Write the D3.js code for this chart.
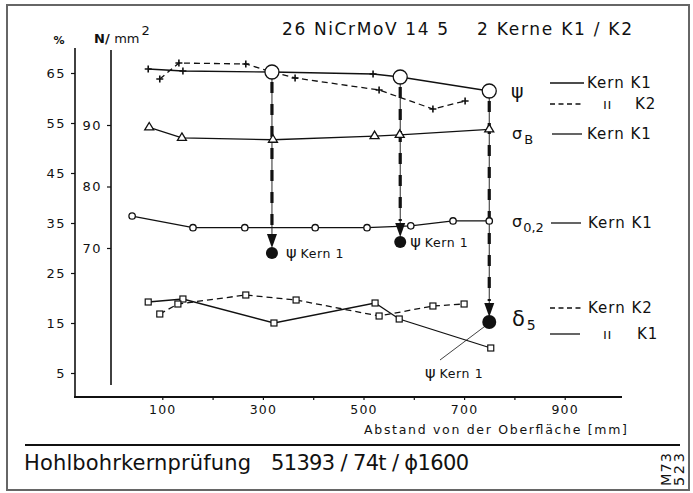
<!DOCTYPE html>
<html>
<head>
<meta charset="utf-8">
<script src="https://cdn.jsdelivr.net/npm/d3@7"></script>
<style>
  body { margin: 0; background: #fff; }
  svg text { font-family: "DejaVu Sans", sans-serif; fill: #111; }
</style>
</head>
<body>
<script>
const width = 693;
const height = 493;

// Abstand von der Oberfläche [mm] / values
const psiK1Pos = [72, 141, 318, 519, 573, 750];
const psiK1Val = [65.8, 65.4, 65.2, 64.8, 64.2, 61.4];
const psiK2Pos = [95, 133, 266, 318, 364, 531, 638, 702];
const psiK2Val = [63.8, 67.0, 66.8, 65.2, 64.0, 61.6, 57.8, 59.4];

const sigmaBPos = [74, 139, 320, 522, 572, 750];
const sigmaBVal = [89.6, 87.9, 87.6, 88.2, 88.4, 89.3];
const sigma02Pos = [40, 161, 264, 404, 507, 594, 678, 750];
const sigma02Val = [75.2, 73.3, 73.3, 73.3, 73.3, 73.6, 74.4, 74.4];

const delta5K1Pos = [72, 141, 322, 523, 571, 753];
const delta5K1Val = [19.2, 19.8, 15.0, 19.0, 15.8, 10.0];
const delta5K2Pos = [95, 131, 266, 366, 531, 638, 700];
const delta5K2Val = [16.8, 18.8, 20.6, 19.6, 16.4, 18.4, 18.8];

// psi of Kern 1 at the three marked spots (arrows)
const kern1Pos = [318, 573, 750];
const kern1Val = [29.0, 31.2, 15.2];

const pctTicks = [5, 15, 25, 35, 45, 55, 65];
const nTicks = [70, 80, 90];
const xTicks = [100, 200, 300, 400, 500, 600, 700, 800, 900];
const xLabels = [100, 300, 500, 700, 900];

const svg = d3.create('svg')
  .attr('width', width)
  .attr('height', height)
  .style('background-color', '#fff');
document.body.appendChild(svg.node());

const ink = '#111';

const x = d3.scaleLinear().domain([0, 1000]).range([112, 615]);
const yPct = d3.scaleLinear().domain([0, 70]).range([398, 48]);
const yN = d3.scaleLinear().domain([70, 90]).range([248, 125]);

// frame
svg.append('rect')
  .attr('x', 7).attr('y', 5).attr('width', 682).attr('height', 485)
  .attr('fill', 'none').attr('stroke', '#666').attr('stroke-width', 2);

// x axis
const xAxis = svg.append('g')
  .attr('transform', 'translate(0,397)')
  .call(d3.axisBottom(x).tickValues(xTicks).tickSize(3)
    .tickFormat(d => xLabels.includes(d) ? d : ''));
xAxis.select('.domain').remove();
xAxis.selectAll('line').attr('stroke', ink).attr('stroke-width', 1.2);
xAxis.selectAll('text').attr('font-size', 12.5).attr('dy', '0.9em')
  .attr('letter-spacing', 1.2).attr('fill', ink);
svg.append('line')
  .attr('x1', 74).attr('x2', 622).attr('y1', 397).attr('y2', 397)
  .attr('stroke', ink).attr('stroke-width', 1.8);

// % axis
const pAxis = svg.append('g')
  .attr('transform', 'translate(75,0)')
  .call(d3.axisLeft(yPct).tickValues(pctTicks).tickSize(4).tickPadding(5));
pAxis.select('.domain').remove();
pAxis.selectAll('line').attr('stroke', ink).attr('stroke-width', 1.2);
pAxis.selectAll('text').attr('font-size', 13).attr('letter-spacing', 1.5).attr('fill', ink);
svg.append('line')
  .attr('x1', 75).attr('x2', 75).attr('y1', yPct(70)).attr('y2', 397)
  .attr('stroke', ink).attr('stroke-width', 1.6);

// N/mm2 axis
const nAxis = svg.append('g')
  .attr('transform', 'translate(111,0)')
  .call(d3.axisLeft(yN).tickValues(nTicks).tickSize(4).tickPadding(5));
nAxis.select('.domain').remove();
nAxis.selectAll('line').attr('stroke', ink).attr('stroke-width', 1.2);
nAxis.selectAll('text').attr('font-size', 13).attr('letter-spacing', 1.5).attr('fill', ink);
svg.append('line')
  .attr('x1', 111).attr('x2', 111).attr('y1', 50).attr('y2', 385)
  .attr('stroke', ink).attr('stroke-width', 1.6);

// axis units
svg.append('text').attr('x', 59).attr('y', 44).attr('text-anchor', 'middle')
  .attr('font-size', 11).attr('font-weight', 'bold').text('%');
const unit = svg.append('text').attr('x', 94).attr('y', 43).attr('font-size', 13);
unit.append('tspan').attr('font-weight', 'bold').text('N/ ');
unit.append('tspan').text('mm');
unit.append('tspan').attr('dy', -8).attr('dx', 2).text('2');

// title
svg.append('text').attr('x', 282).attr('y', 35).attr('font-size', 17)
  .attr('textLength', 166).attr('lengthAdjust', 'spacing').text('26 NiCrMoV 14 5');
svg.append('text').attr('x', 477).attr('y', 35).attr('font-size', 17)
  .attr('textLength', 155).attr('lengthAdjust', 'spacing').text('2 Kerne K1 / K2');

// helpers
function pts(pos, val, ys) { return pos.map((p, i) => [x(p), ys(val[i])]); }
const line = d3.line();
function drawLine(data, dashed) {
  svg.append('path').datum(data)
    .attr('d', line)
    .attr('fill', 'none').attr('stroke', ink).attr('stroke-width', 1.3)
    .attr('stroke-dasharray', dashed ? '6,4' : null);
}
function plus(data) {
  svg.selectAll(null).data(data).enter().append('path')
    .attr('d', d => `M${d[0] - 3.5},${d[1]}h7M${d[0]},${d[1] - 3.5}v7`)
    .attr('stroke', ink).attr('stroke-width', 1.6);
}
function openCircle(data, r) {
  svg.selectAll(null).data(data).enter().append('circle')
    .attr('cx', d => d[0]).attr('cy', d => d[1]).attr('r', r)
    .attr('fill', '#fff').attr('stroke', ink).attr('stroke-width', 1.3);
}
function square(data) {
  svg.selectAll(null).data(data).enter().append('rect')
    .attr('x', d => d[0] - 3).attr('y', d => d[1] - 3).attr('width', 6).attr('height', 6)
    .attr('fill', '#fff').attr('stroke', ink).attr('stroke-width', 1.2);
}
function triangle(data) {
  svg.selectAll(null).data(data).enter().append('path')
    .attr('d', d => `M${d[0]},${d[1] - 5}L${d[0] + 4.5},${d[1] + 2.5}L${d[0] - 4.5},${d[1] + 2.5}Z`)
    .attr('fill', '#fff').attr('stroke', ink).attr('stroke-width', 1.3);
}

// vertical arrows psi Kern 1
kern1Pos.forEach((p, i) => {
  const top = yPct(psiK1Val[psiK1Pos.indexOf(p)]);
  const cy = yPct(kern1Val[i]);
  const cx = x(p);
  const tip = cy - 5;
  svg.append('line').attr('x1', cx).attr('x2', cx).attr('y1', top + 6).attr('y2', tip - 10)
    .attr('stroke', ink).attr('stroke-width', 0.9);
  svg.append('line').attr('x1', cx).attr('x2', cx).attr('y1', top + 10).attr('y2', tip - 16)
    .attr('stroke', ink).attr('stroke-width', 3.2).attr('stroke-dasharray', '11,11');
  svg.append('path')
    .attr('d', `M${cx},${tip}L${cx - 5},${tip - 14}L${cx + 5},${tip - 14}Z`)
    .attr('fill', ink);
  svg.append('circle').attr('cx', cx).attr('cy', cy).attr('r', i === 2 ? 7 : 6).attr('fill', ink);
});

// psi
const psi1 = pts(psiK1Pos, psiK1Val, yPct);
const psi2 = pts(psiK2Pos, psiK2Val, yPct);
drawLine(psi1, false);
drawLine(psi2, true);
plus(psi1.filter((d, i) => !kern1Pos.includes(psiK1Pos[i])));
plus(psi2.filter((d, i) => !kern1Pos.includes(psiK2Pos[i])));
openCircle(psi1.filter((d, i) => kern1Pos.includes(psiK1Pos[i])), 7);

// sigma B
const sB = pts(sigmaBPos, sigmaBVal, yN);
drawLine(sB, false);
triangle(sB);

// sigma 0,2
const s02 = pts(sigma02Pos, sigma02Val, yN);
drawLine(s02, false);
openCircle(s02, 3.2);

// delta 5
const d1 = pts(delta5K1Pos, delta5K1Val, yPct);
const d2 = pts(delta5K2Pos, delta5K2Val, yPct);
drawLine(d1, false);
drawLine(d2, true);
square(d1);
square(d2);

// psi Kern 1 labels
function kernLabel(px, py) {
  const t = svg.append('text').attr('x', px).attr('y', py).attr('font-size', 12.5);
  t.append('tspan').attr('font-size', 16).text('ψ');
  t.append('tspan').attr('dx', 4).attr('letter-spacing', 0.6).text('Kern 1');
}
kernLabel(x(kern1Pos[0]) + 14, yPct(kern1Val[0]) + 5);
kernLabel(x(kern1Pos[1]) + 10, yPct(kern1Val[1]) + 5);
kernLabel(425, 378);
svg.append('line')
  .attr('x1', 440).attr('y1', 360).attr('x2', x(kern1Pos[2]) - 4).attr('y2', yPct(kern1Val[2]) + 4)
  .attr('stroke', ink).attr('stroke-width', 0.8);

// legend
function legLine(x1, x2, y, dashed) {
  svg.append('line').attr('x1', x1).attr('x2', x2).attr('y1', y).attr('y2', y)
    .attr('stroke', ink).attr('stroke-width', 1.3)
    .attr('stroke-dasharray', dashed ? '5,3.5' : null);
}
function legText(px, py, s) {
  svg.append('text').attr('x', px).attr('y', py).attr('font-size', 15)
    .attr('letter-spacing', 1).text(s);
}
function ditto(px, py) {
  svg.append('text').attr('x', px).attr('y', py).attr('font-size', 14)
    .attr('letter-spacing', 0.5).text('ıı');
}

svg.append('text').attr('x', 511).attr('y', 98).attr('font-size', 19).text('ψ');
legLine(550, 584, 83, false); legText(587, 88, 'Kern K1');
legLine(550, 584, 104, true); ditto(603, 109); legText(635, 109, 'K2');

const sbT = svg.append('text').attr('x', 512).attr('y', 139).attr('font-size', 16);
sbT.append('tspan').text('σ');
sbT.append('tspan').attr('font-size', 13).attr('dy', 5).attr('dx', 2).text('B');
legLine(552, 582, 134, false); legText(587, 139, 'Kern K1');

const s02T = svg.append('text').attr('x', 512).attr('y', 227).attr('font-size', 16);
s02T.append('tspan').text('σ');
s02T.append('tspan').attr('font-size', 13).attr('dy', 5).attr('dx', 1).text('0,2');
legLine(551, 581, 223, false); legText(588, 228, 'Kern K1');

const dT = svg.append('text').attr('x', 512).attr('y', 326).attr('font-size', 21);
dT.append('tspan').text('δ');
dT.append('tspan').attr('font-size', 14).attr('dy', 4).attr('dx', 2).text('5');
legLine(550, 581, 308, true); legText(588, 313, 'Kern K2');
legLine(550, 580, 334, false); ditto(603, 339); legText(637, 339, 'K1');

// x axis title
svg.append('text').attr('x', 364).attr('y', 434).attr('font-size', 12.5)
  .attr('textLength', 263).attr('lengthAdjust', 'spacing')
  .text('Abstand von der Oberfläche [mm]');

// footer
svg.append('line').attr('x1', 25).attr('x2', 680).attr('y1', 445).attr('y2', 445)
  .attr('stroke', ink).attr('stroke-width', 2);
svg.append('text').attr('x', 24).attr('y', 470).attr('font-size', 21)
  .attr('textLength', 227).attr('lengthAdjust', 'spacing').text('Hohlbohrkernprüfung');
svg.append('text').attr('x', 271).attr('y', 470).attr('font-size', 21)
  .attr('textLength', 198).attr('lengthAdjust', 'spacing').text('51393 / 74t / ϕ1600');
svg.append('text').attr('transform', 'translate(671,486) rotate(-90)').attr('font-size', 14.5)
  .attr('textLength', 33).attr('lengthAdjust', 'spacing').text('M73');
svg.append('text').attr('transform', 'translate(684,486) rotate(-90)').attr('font-size', 14.5)
  .attr('textLength', 33).attr('lengthAdjust', 'spacing').text('523');
</script>
</body>
</html>
